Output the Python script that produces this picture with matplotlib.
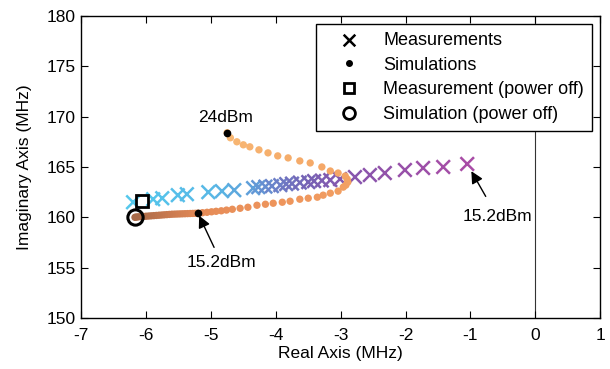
import numpy as np
import matplotlib.pyplot as plt
from matplotlib.colors import LinearSegmentedColormap

plt.rcParams['font.family'] = ['Liberation Sans', 'DejaVu Sans']
plt.rcParams['font.size'] = 12.5
plt.rcParams['axes.unicode_minus'] = False

# measured poles (MHz), low power (left) -> 15.2 dBm (right)
meas_re = [-6.20, -5.89, -5.75, -5.51, -5.37, -5.04, -4.83, -4.64, -4.35, -4.27,
           -4.16, -4.06, -3.93, -3.84, -3.75, -3.63, -3.50, -3.41, -3.29, -3.16,
           -3.01, -2.78, -2.55, -2.32, -2.01, -1.73, -1.42, -1.05]
meas_im = [161.5, 161.8, 161.9, 162.2, 162.3, 162.5, 162.6, 162.7, 162.9, 163.0,
           163.05, 163.1, 163.2, 163.3, 163.35, 163.45, 163.5, 163.6, 163.65, 163.7,
           163.8, 164.0, 164.2, 164.4, 164.7, 164.9, 165.0, 165.3]

# simulated poles (MHz), 24 dBm -> power off
sim_re = [-4.75, -4.70, -4.60, -4.50, -4.40, -4.26, -4.12, -3.97, -3.81, -3.63,
          -3.47, -3.29, -3.16, -3.04, -2.93, -2.90, -2.89, -2.92, -2.96, -3.04,
          -3.16, -3.27, -3.36, -3.50, -3.63, -3.78, -3.90, -4.04, -4.16, -4.29,
          -4.43, -4.55, -4.67, -4.76, -4.84, -4.92, -4.99, -5.06, -5.13, -5.20,
          -5.24, -5.28, -5.32, -5.36, -5.40, -5.44, -5.48, -5.52, -5.56, -5.60,
          -5.64, -5.68, -5.72, -5.76, -5.80, -5.84, -5.88, -5.92, -5.96, -6.00,
          -6.04, -6.08, -6.12, -6.15, -6.17]
sim_im = [168.4, 167.9, 167.5, 167.2, 167.0, 166.7, 166.4, 166.1, 165.9, 165.6,
          165.4, 165.0, 164.6, 164.4, 164.1, 163.8, 163.5, 163.2, 163.0, 162.6,
          162.4, 162.2, 162.0, 161.9, 161.8, 161.6, 161.5, 161.4, 161.3, 161.2,
          161.0, 160.9, 160.8, 160.72, 160.65, 160.6, 160.55, 160.5, 160.46, 160.42,
          160.4, 160.39, 160.38, 160.37, 160.36, 160.35, 160.34, 160.33, 160.32, 160.31,
          160.29, 160.27, 160.25, 160.23, 160.21, 160.19, 160.17, 160.15, 160.13, 160.11,
          160.09, 160.07, 160.05, 160.03, 160.0]

sim_24dbm = (-4.75, 168.4)
sim_15dbm = (-5.20, 160.42)
meas_off = (-6.06, 161.6)
sim_off = (-6.17, 160.0)

fig = plt.figure(figsize=(6.1, 3.69), dpi=100)
ax = fig.add_axes([0.133, 0.138, 0.851, 0.819])

ax.axvline(0, color='#333333', lw=0.8, zorder=1)

mcmap = LinearSegmentedColormap.from_list('m', ['#55c8ec', '#58b8e6', '#6a86cc', '#7662b4', '#8a55ac', '#a84ca6'])
mcol = mcmap(np.linspace(0, 1, len(meas_re)))
ax.scatter(meas_re, meas_im, marker='x', s=95, linewidths=1.8, c=mcol, zorder=2)

scmap = LinearSegmentedColormap.from_list('s', ['#f8b874', '#f4a666', '#ee955c', '#e58b57', '#c97a50', '#a96a48'])
scol = scmap(np.linspace(0, 1, len(sim_re)))
ax.scatter(sim_re, sim_im, marker='o', s=28, c=scol, edgecolors='none', zorder=3)

ax.plot(*sim_24dbm, 'o', color='k', ms=4.5, zorder=4)
ax.plot(*sim_15dbm, 'o', color='k', ms=4.5, zorder=4)
ax.plot(*meas_off, 's', mfc='none', mec='k', mew=2, ms=8, zorder=5)
ax.plot(*sim_off, 'o', mfc='none', mec='k', mew=2.2, ms=11, zorder=5)

ax.text(-4.77, 169.2, '24dBm', ha='center', va='bottom')
ax.annotate('15.2dBm', xy=sim_15dbm, xytext=(-4.84, 155.5), ha='center', va='center',
            arrowprops=dict(arrowstyle='-|>', color='k', lw=1, mutation_scale=18,
                            shrinkA=4, shrinkB=2))
ax.annotate('15.2dBm', xy=(meas_re[-1], meas_im[-1]), xytext=(-0.59, 160.1), ha='center', va='center',
            arrowprops=dict(arrowstyle='-|>', color='k', lw=1, mutation_scale=18,
                            shrinkA=8, shrinkB=6))

h1 = ax.scatter([], [], marker='x', s=70, linewidths=1.8, c='k')
h2, = ax.plot([], [], 'o', color='k', ms=4)
h3, = ax.plot([], [], 's', mfc='none', mec='k', mew=2, ms=7)
h4, = ax.plot([], [], 'o', mfc='none', mec='k', mew=2, ms=8.5)
leg = ax.legend([h1, h2, h3, h4],
                ['Measurements', 'Simulations', 'Measurement (power off)', 'Simulation (power off)'],
                loc='upper right', fancybox=False, edgecolor='k', framealpha=1, fontsize=13,
                borderaxespad=0.45, handlelength=2.8, labelspacing=0.42, borderpad=0.45,
                handletextpad=0.5)
leg.get_frame().set_linewidth(1)

ax.set_xlim(-7, 1)
ax.set_ylim(150, 180)
ax.set_xticks(np.arange(-7, 2, 1))
ax.set_yticks(np.arange(150, 181, 5))
ax.tick_params(direction='in', top=True, right=True, length=5)
ax.tick_params(axis='x', pad=7)
ax.tick_params(axis='y', pad=4)
for s in ax.spines.values():
    s.set_linewidth(1)
ax.set_xlabel('Real Axis (MHz)', labelpad=2)
ax.set_ylabel('Imaginary Axis (MHz)', labelpad=10)

fig.savefig('out.png', dpi=100)
